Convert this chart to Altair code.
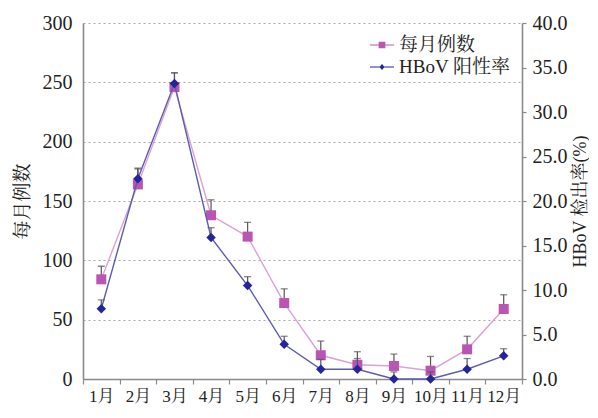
import altair as alt
import pandas as pd

months = ["1月", "2月", "3月", "4月", "5月", "6月", "7月", "8月", "9月", "10月", "11月", "12月"]
series_names = ["每月例数", "HBoV 阳性率"]
count_values = [84, 164, 246, 138, 120, 64, 20, 12, 11, 7, 25, 59]
count_err_top = [95, 177, 258, 151, 132, 76, 32, 23, 21, 19, 36, 71]
rate_values = [7.9, 22.5, 33.2, 15.9, 10.5, 3.9, 1.1, 1.1, 0.0, 0.0, 1.1, 2.6]
rate_err_top = [8.9, 23.7, 34.4, 17.0, 11.5, 4.8, 2.2, 2.3, 0.8, 0.8, 2.3, 3.4]
left_ticks = [0, 50, 100, 150, 200, 250, 300]
right_ticks = [0, 5, 10, 15, 20, 25, 30, 35, 40]

FONT = "Liberation Serif, Noto Serif CJK SC, Noto Sans CJK SC"
PINK = "#bb55b4"
PINK_LINE = "#d9a3d5"
NAVY = "#24249c"
NAVY_LINE = "#5c5cae"
ERR = "#555555"
AXIS_C = "#8a8a8a"
TXT = "#222222"

count_df = pd.DataFrame({"month": months, "series": series_names[0],
                         "value": count_values, "top": count_err_top})
rate_df = pd.DataFrame({"month": months, "series": series_names[1],
                        "value": rate_values, "top": rate_err_top})

x_axis = alt.Axis(title=None, tickBand="extent", labelAngle=0, labelFont=FONT,
                  labelFontSize=17, labelColor=TXT, labelPadding=4, tickSize=5,
                  tickColor=AXIS_C, tickWidth=1.2, domainColor=AXIS_C, domainWidth=1.6,
                  labelOverlap=False, grid=False)
x_enc = alt.X("month:N", sort=months,
              scale=alt.Scale(type="band", domain=months, paddingInner=0, paddingOuter=0),
              axis=x_axis)

left_axis = alt.Axis(title="每月例数", values=left_ticks, labelFont=FONT, labelFontSize=20,
                     labelColor=TXT, labelPadding=11, ticks=False, domainColor=AXIS_C,
                     domainWidth=1.6, grid=True, gridColor="#a8a8a8", gridDash=[2, 3],
                     gridWidth=1, titleFont=FONT, titleFontSize=19, titleFontWeight="normal",
                     titleColor=TXT, titlePadding=10)
right_axis = alt.Axis(title="HBoV 检出率(%)", orient="right", values=right_ticks, format=".1f",
                      labelFont=FONT, labelFontSize=20, labelColor=TXT, labelPadding=6,
                      tickSize=4, tickColor=AXIS_C, tickWidth=1.2, domainColor=AXIS_C,
                      domainWidth=1.6, grid=False, titleFont=FONT, titleFontSize=18,
                      titleFontWeight="normal", titleColor=TXT, titlePadding=4,
                      titleAngle=270, titleBaseline="top")

left_scale = alt.Scale(domain=[0, 300], nice=False, zero=True)
right_scale = alt.Scale(domain=[0, 40], nice=False, zero=True)

leg = alt.Legend(title=None, orient="none", legendX=287, legendY=10, symbolSize=576,
                 symbolOpacity=1, symbolStrokeWidth=0, labelFont=FONT, labelFontSize=19,
                 labelColor=TXT, labelOffset=5, rowPadding=0, padding=0)
PATH_SQ = "M-1,-0.045H1V0.045H-1Z M-0.28,-0.28H0.28V0.28H-0.28Z"
PATH_DI = "M-1,-0.045H1V0.045H-1Z M0,-0.26L0.21,0L0,0.26L-0.21,0Z"

# --- count series (left axis)
yl = alt.Y("value:Q", scale=left_scale, axis=left_axis)
yl_top = alt.Y("top:Q", scale=left_scale, axis=left_axis)
pink_line = alt.Chart(count_df).mark_line(color=PINK_LINE, strokeWidth=1.4).encode(x=x_enc, y=yl)
pink_rule = alt.Chart(count_df).mark_rule(color=ERR, strokeWidth=1.2).encode(
    x=x_enc, y=yl, y2=alt.Y2("top:Q"))
pink_cap = alt.Chart(count_df).mark_tick(color=ERR, size=7, thickness=1.3).encode(x=x_enc, y=yl_top)
pink_pts = alt.Chart(count_df).mark_point(shape="square", filled=True, size=100, color=PINK,
                                          opacity=1).encode(x=x_enc, y=yl)
legend_pts = alt.Chart(count_df).mark_point(filled=True, opacity=0).encode(
    x=x_enc, y=yl,
    color=alt.Color("series:N", scale=alt.Scale(domain=series_names, range=[PINK, NAVY]), legend=leg),
    shape=alt.Shape("series:N", scale=alt.Scale(domain=series_names, range=[PATH_SQ, PATH_DI]), legend=leg),
)
pink_group = alt.layer(pink_line, pink_rule, pink_cap, pink_pts, legend_pts)

# --- rate series (right axis)
yr = alt.Y("value:Q", scale=right_scale, axis=right_axis)
yr_top = alt.Y("top:Q", scale=right_scale, axis=right_axis)
navy_line = alt.Chart(rate_df).mark_line(color=NAVY_LINE, strokeWidth=1.4).encode(x=x_enc, y=yr)
navy_rule = alt.Chart(rate_df).mark_rule(color=ERR, strokeWidth=1.2).encode(
    x=x_enc, y=yr, y2=alt.Y2("top:Q"))
navy_cap = alt.Chart(rate_df).mark_tick(color=ERR, size=7, thickness=1.3).encode(x=x_enc, y=yr_top)
navy_pts = alt.Chart(rate_df).mark_point(shape="diamond", filled=True, size=90, color=NAVY,
                                         opacity=1).encode(x=x_enc, y=yr)
navy_group = alt.layer(navy_line, navy_rule, navy_cap, navy_pts)

chart = alt.layer(pink_group, navy_group).resolve_scale(y="independent").properties(
    width=439, height=356,
    padding={"left": 5, "top": 5, "right": 0, "bottom": 0},
    background="#ffffff",
).configure_view(stroke=None)

chart.save("out.html", embed_options={"renderer": "svg", "actions": False})
